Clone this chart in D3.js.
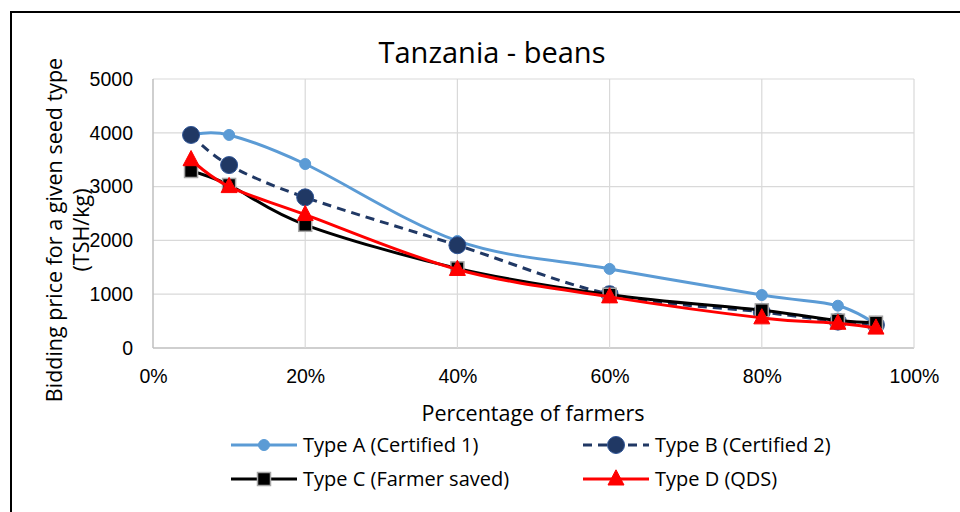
<!DOCTYPE html>
<html>
<head>
<meta charset="utf-8">
<script src="https://cdn.jsdelivr.net/npm/d3@7"></script>
<style>
  body { margin: 0; background: #fff; }
  svg { display: block; font-family: "Open Sans", "Noto Sans", sans-serif; }
</style>
</head>
<body>
<div id="chart"></div>
<script>
// Data
var shares = [0.05, 0.10, 0.20, 0.40, 0.60, 0.80, 0.90, 0.95];
var typeA = [3960, 3960, 3420, 1990, 1470, 985, 786, 440];
var typeB = [3960, 3400, 2800, 1910, 1000, 670, 490, 430];
var typeC = [3290, 3030, 2290, 1480, 990, 700, 510, 470];
var typeD = [3500, 3000, 2480, 1460, 950, 560, 460, 370];
var seriesNames = ["Type A (Certified 1)", "Type B (Certified 2)", "Type C (Farmer saved)", "Type D (QDS)"];
var xTicks = [0, 0.2, 0.4, 0.6, 0.8, 1.0];
var yTicks = [0, 1000, 2000, 3000, 4000, 5000];

var W = 960, H = 512;
var margin = { top: 79, right: 46, bottom: 164, left: 153 },
    width = W - margin.left - margin.right,
    height = H - margin.top - margin.bottom;

var svg = d3.select("#chart").append("svg")
    .attr("width", W)
    .attr("height", H);

// Outer frame
svg.append("rect")
    .attr("x", 11).attr("y", 12)
    .attr("width", W + 20).attr("height", H + 20)
    .attr("fill", "none")
    .attr("stroke", "#000")
    .attr("stroke-width", 2);

var g = svg.append("g")
    .attr("transform", "translate(" + margin.left + "," + margin.top + ")");

var xScale = d3.scaleLinear().domain([0, 1]).range([0, width]);
var yScale = d3.scaleLinear().domain([0, 5000]).range([height, 0]);

// Gridlines
g.append("g").selectAll("line.h")
    .data(yTicks).enter().append("line")
    .attr("x1", 0).attr("x2", width)
    .attr("y1", function (d) { return yScale(d); })
    .attr("y2", function (d) { return yScale(d); })
    .attr("stroke", function (d) { return d === 0 ? "#bfbfbf" : "#d9d9d9"; })
    .attr("stroke-width", function (d) { return d === 0 ? 1.5 : 1.2; });

g.append("g").selectAll("line.v")
    .data(xTicks).enter().append("line")
    .attr("y1", 0).attr("y2", height)
    .attr("x1", function (d) { return xScale(d); })
    .attr("x2", function (d) { return xScale(d); })
    .attr("stroke", function (d) { return d === 0 ? "#bfbfbf" : "#d9d9d9"; })
    .attr("stroke-width", function (d) { return d === 0 ? 1.5 : 1.2; });

// Axes (labels only)
var xAxis = d3.axisBottom(xScale).tickValues(xTicks).tickSize(0).tickPadding(21)
    .tickFormat(d3.format(".0%"));
var yAxis = d3.axisLeft(yScale).tickValues(yTicks).tickSize(0).tickPadding(20)
    .tickFormat(d3.format("d"));

g.append("g")
    .attr("class", "x axis")
    .attr("transform", "translate(0," + height + ")")
    .call(xAxis)
    .call(function (a) { a.select(".domain").remove(); })
    .selectAll("text").attr("font-size", 19.5).attr("fill", "#000").attr("font-family", null);

g.append("g")
    .attr("class", "y axis")
    .call(yAxis)
    .call(function (a) { a.select(".domain").remove(); })
    .selectAll("text").attr("font-size", 19.5).attr("fill", "#000").attr("font-family", null);

// Title and axis titles
svg.append("text")
    .attr("x", 492).attr("y", 63)
    .attr("text-anchor", "middle")
    .attr("font-size", 29)
    .text("Tanzania - beans");

svg.append("text")
    .attr("x", 533).attr("y", 421)
    .attr("text-anchor", "middle")
    .attr("font-size", 21.5)
    .text("Percentage of farmers");

var yTitle = svg.append("text")
    .attr("transform", "translate(62,230) rotate(-90)")
    .attr("text-anchor", "middle")
    .attr("font-size", 21.5);
yTitle.append("tspan").attr("x", 0).attr("dy", 0).text("Bidding price for a given seed type");
yTitle.append("tspan").attr("x", 0).attr("dy", 27).text("(TSH/kg)");

// Series
var series = [
    { name: seriesNames[0], values: typeA, color: "#5b9bd5", dash: null, marker: "circle", size: 5.5, stroke: "#5b9bd5" },
    { name: seriesNames[1], values: typeB, color: "#203864", dash: "9,6", marker: "circle", size: 8.5, stroke: "#2f5597" },
    { name: seriesNames[2], values: typeC, color: "#000000", dash: null, marker: "square", size: 13, stroke: "#a6a6a6" },
    { name: seriesNames[3], values: typeD, color: "#ff0000", dash: null, marker: "triangle", size: 16, stroke: "#ff0000" }
];

var line = d3.line()
    .x(function (d) { return xScale(d.x); })
    .y(function (d) { return yScale(d.y); })
    .curve(d3.curveCatmullRom.alpha(0));

function points(s) {
    return shares.map(function (x, i) { return { x: x, y: s.values[i] }; });
}

function drawMarker(sel, s) {
    if (s.marker === "circle") {
        sel.append("circle").attr("r", s.size)
            .attr("fill", s.color).attr("stroke", s.stroke).attr("stroke-width", 1);
    } else if (s.marker === "square") {
        sel.append("rect")
            .attr("x", -s.size / 2).attr("y", -s.size / 2)
            .attr("width", s.size).attr("height", s.size)
            .attr("fill", s.color).attr("stroke", s.stroke).attr("stroke-width", 1.5);
    } else {
        var r = s.size / 2;
        sel.append("path")
            .attr("d", "M0," + (-r * 1.15) + "L" + r + "," + (r * 0.75) + "L" + (-r) + "," + (r * 0.75) + "Z")
            .attr("fill", s.color).attr("stroke", s.stroke).attr("stroke-width", 1);
    }
}

// Each series: line then markers, in legend order so later series sit on top
series.forEach(function (s) {
    g.append("path")
        .datum(points(s))
        .attr("class", "line")
        .attr("fill", "none")
        .attr("stroke", s.color)
        .attr("stroke-width", 3)
        .attr("stroke-dasharray", s.dash)
        .attr("d", line);
    g.append("g").selectAll("g.pt")
        .data(points(s)).enter().append("g")
        .attr("transform", function (d) { return "translate(" + xScale(d.x) + "," + yScale(d.y) + ")"; })
        .each(function () { drawMarker(d3.select(this), s); });
});

// Legend
var legendPos = [[231, 445], [583, 445], [231, 479], [583, 479]];
series.forEach(function (s, i) {
    var lg = svg.append("g")
        .attr("transform", "translate(" + legendPos[i][0] + "," + legendPos[i][1] + ")");
    lg.append("line")
        .attr("x1", 0).attr("x2", 66).attr("y1", 0).attr("y2", 0)
        .attr("stroke", s.color).attr("stroke-width", 3)
        .attr("stroke-dasharray", s.dash);
    drawMarker(lg.append("g").attr("transform", "translate(33,0)"), s);
    lg.append("text")
        .attr("x", 72).attr("y", 7)
        .attr("font-size", 20)
        .text(s.name);
});
</script>
</body>
</html>
